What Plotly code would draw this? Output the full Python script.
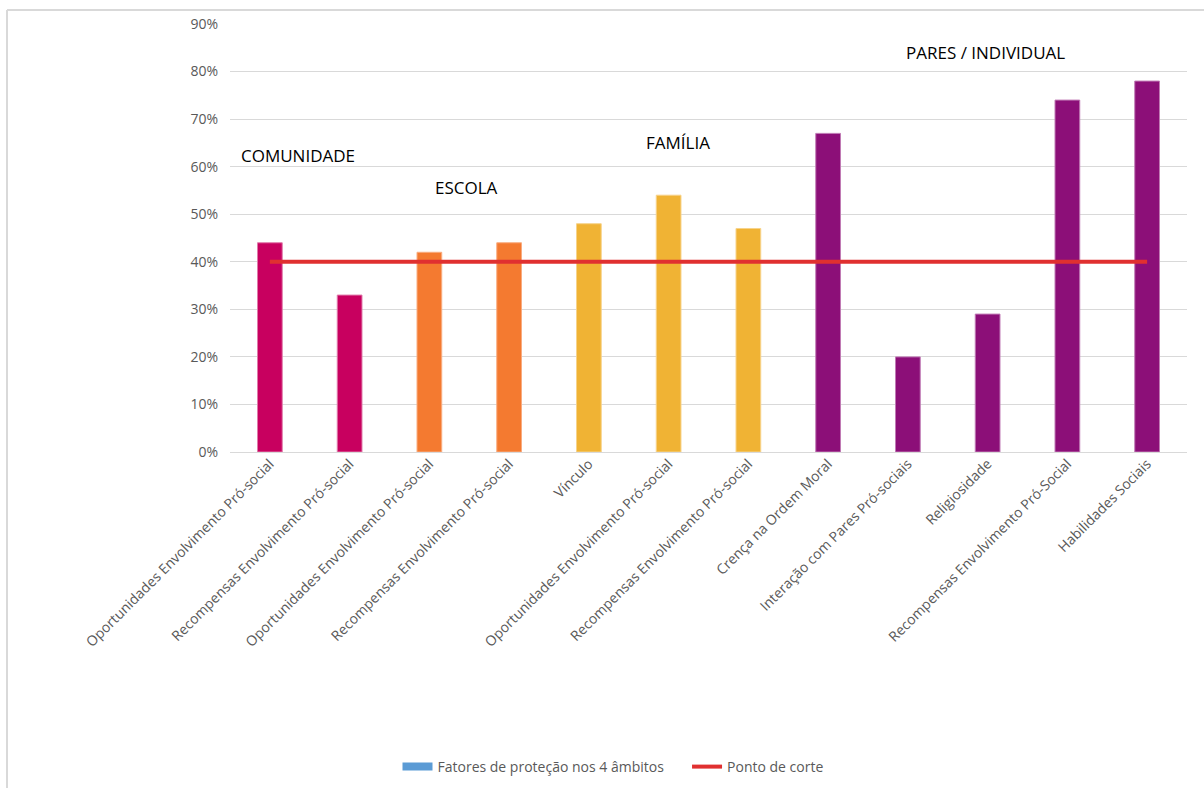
import plotly.graph_objects as go

categories = [
    "Oportunidades Envolvimento Pró-social",
    "Recompensas Envolvimento Pró-social",
    "Oportunidades Envolvimento Pró-social",
    "Recompensas Envolvimento Pró-social",
    "Vínculo",
    "Oportunidades Envolvimento Pró-social",
    "Recompensas Envolvimento Pró-social",
    "Crença na Ordem Moral",
    "Interação com Pares Pró-sociais",
    "Religiosidade",
    "Recompensas Envolvimento Pró-Social",
    "Habilidades Sociais",
]
values = [0.44, 0.33, 0.42, 0.44, 0.48, 0.54, 0.47, 0.67, 0.20, 0.29, 0.74, 0.78]
domains = ["COMUNIDADE", "COMUNIDADE", "ESCOLA", "ESCOLA", "FAMÍLIA", "FAMÍLIA", "FAMÍLIA",
           "PARES", "PARES", "PARES", "PARES", "PARES"]
cut_values = [0.40] * 12

domain_colors = {"COMUNIDADE": "#C8005F", "ESCOLA": "#F47A30", "FAMÍLIA": "#F0B334", "PARES": "#8C0F78"}
domain_borders = {"COMUNIDADE": "#E07AAA", "ESCOLA": "#F9AD80", "FAMÍLIA": "#F7D38A", "PARES": "#C07AB5"}

group_labels = ["COMUNIDADE", "ESCOLA", "FAMÍLIA", "PARES / INDIVIDUAL"]
group_label_x = [0.35, 2.47, 5.12, 8.97]
group_label_y = [0.624, 0.557, 0.65, 0.841]

xs = list(range(len(categories)))
FONT = "Open Sans"
GRAY = "#595959"
NBSP = "\u00a0"

fig = go.Figure()
fig.add_trace(go.Bar(
    x=xs, y=values, width=0.31,
    marker=dict(color=[domain_colors[d] for d in domains],
                line=dict(color=[domain_borders[d] for d in domains], width=1)),
    showlegend=False, hoverinfo="y",
))
# legend entry for the bar series (default blue swatch in the original)
fig.add_trace(go.Scatter(x=[None], y=[None], mode="lines",
                         name="Fatores de proteção nos 4 âmbitos" + NBSP * 5,
                         line=dict(color="#5B9BD5", width=8)))
fig.add_trace(go.Scatter(x=xs, y=cut_values, mode="lines", name="Ponto de corte",
                         line=dict(color="#E03030", width=4)))

for t, x, y in zip(group_labels, group_label_x, group_label_y):
    fig.add_annotation(x=x, y=y, text=t, showarrow=False,
                       font=dict(family=FONT, size=17, color="#000000"))

L, R, T, B = 230, 17, 24, 336
W, H = 1204, 788
pw, ph = W - L - R, H - T - B
bx = (7 - L) / pw
by = (H - B - 10) / ph
fig.add_shape(type="line", xref="paper", yref="paper", x0=bx, x1=bx, y0=by, y1=-(B + 5) / ph,
              line=dict(color="#D9D9D9", width=2))
fig.add_shape(type="line", xref="paper", yref="paper", x0=bx, x1=(W - L + 5) / pw, y0=by, y1=by,
              line=dict(color="#D9D9D9", width=2))

fig.update_layout(
    width=W, height=H,
    margin=dict(l=L, r=R, t=T, b=B, autoexpand=False),
    paper_bgcolor="white", plot_bgcolor="white",
    font=dict(family=FONT, color=GRAY),
    bargap=0.69,
    legend=dict(orientation="h", x=613 / W, xref="container", xanchor="center",
                y=1 - 767 / H, yref="container", yanchor="middle",
                font=dict(family=FONT, size=14, color=GRAY),
                bgcolor="rgba(0,0,0,0)", traceorder="normal"),
)
fig.update_xaxes(
    range=[-0.5, 11.5], tickmode="array", tickvals=xs, ticktext=categories,
    tickangle=-45, tickfont=dict(family=FONT, size=14, color=GRAY),
    showgrid=False, showline=False, zeroline=False, ticks="", automargin=False,
)
fig.update_yaxes(
    range=[0, 0.9], dtick=0.1, tickformat=".0%",
    tickfont=dict(family=FONT, size=14, color=GRAY),
    showgrid=True, gridcolor="#D9D9D9", gridwidth=1,
    zeroline=True, zerolinecolor="#D9D9D9", zerolinewidth=1,
    showline=False, ticks="outside", ticklen=8, tickcolor="rgba(0,0,0,0)", automargin=False,
)

fig.write_html("out.html")
